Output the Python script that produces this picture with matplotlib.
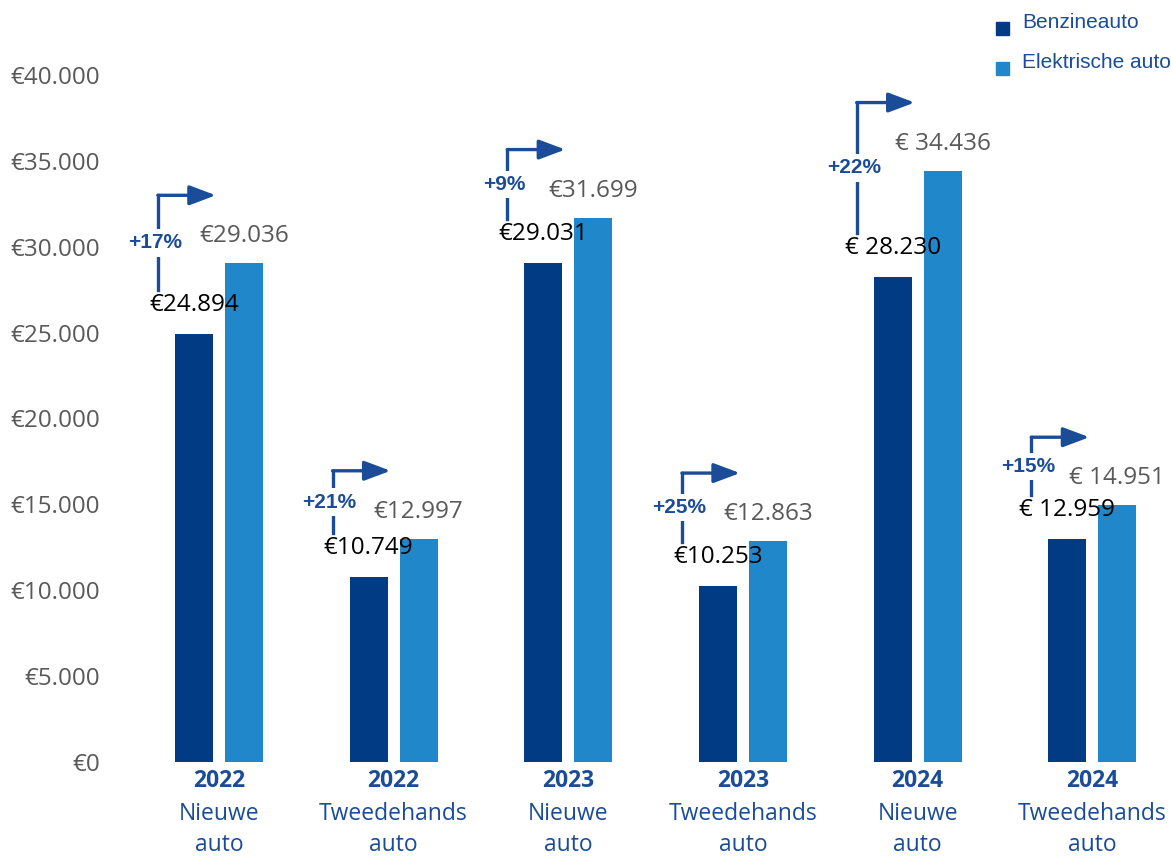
import matplotlib.pyplot as plt
import matplotlib.transforms as mtransforms
from matplotlib.patches import Rectangle
import numpy as np

## Data
years = ['2022', '2022', '2023', '2023', '2024', '2024']
kinds = ['Nieuwe\nauto', 'Tweedehands\nauto', 'Nieuwe\nauto',
         'Tweedehands\nauto', 'Nieuwe\nauto', 'Tweedehands\nauto']
benzine = [24894, 10749, 29031, 10253, 28230, 12959]
elektrisch = [29036, 12997, 31699, 12863, 34436, 14951]
prefix = ['€', '€', '€', '€', '€ ', '€ ']
yticks = [0, 5000, 10000, 15000, 20000, 25000, 30000, 35000, 40000]
series = ['Benzineauto', 'Elektrische auto']

## Colors
c_dark = '#003B84'
c_light = '#2187CB'
c_text = '#1A4C98'
c_gray = '#595959'


def euro(v, p='€'):
    return p + f'{v:,}'.replace(',', '.')


fig = plt.figure(figsize=(11.71, 8.56), dpi=100)
ax = fig.add_axes([0.0974, 0.1098, 0.9026, 0.8026])

x = np.arange(len(benzine))
off = 0.143
w = 0.218
ax.bar(x - off, benzine, width=w, color=c_dark)
ax.bar(x + off, elektrisch, width=w, color=c_light)

ax.set_xlim(-0.6, 5.45)
ax.set_ylim(0, 40000)
ax.set_yticks(yticks)
ax.set_yticklabels([euro(t) for t in yticks], fontfamily='Open Sans',
                   fontsize=17.5, color=c_gray)
ax.tick_params(axis='y', length=0, pad=10)
ax.set_xticks([])
for s in ax.spines.values():
    s.set_visible(False)

## X labels
trans_x = mtransforms.blended_transform_factory(ax.transData, ax.transAxes)
for i in range(len(years)):
    ax.text(x[i], -0.028, years[i], transform=trans_x, ha='center', va='center',
            fontsize=16.5, fontweight='bold', color=c_text, fontfamily='Open Sans')
    ax.text(x[i], -0.058, kinds[i], transform=trans_x, ha='center', va='top',
            fontsize=16.5, color=c_text, fontfamily='Open Sans', linespacing=1.42)

## Value labels
for i in range(len(benzine)):
    ax.annotate(euro(benzine[i], prefix[i]), (x[i] - off, benzine[i]),
                xytext=(0, 29), textcoords='offset pixels', ha='center', va='center',
                fontsize=17.5, color='black', fontfamily='Open Sans')
    ax.annotate(euro(elektrisch[i], prefix[i]), (x[i] + off, elektrisch[i]),
                xytext=(0, 27), textcoords='offset pixels', ha='center', va='center',
                fontsize=17.5, color=c_gray, fontfamily='Open Sans')

## Growth arrows
bar_px = w / 2 * 174.7
inv = ax.transData.inverted()
for i in range(len(benzine)):
    pct = round((elektrisch[i] / benzine[i] - 1) * 100)
    xl = x[i] - off
    t_bot = mtransforms.offset_copy(ax.transData, fig, x=-bar_px - 17, y=44, units='dots')
    t_top = mtransforms.offset_copy(ax.transData, fig, x=-bar_px - 17, y=68, units='dots')
    p0 = t_bot.transform((xl, benzine[i]))
    p1 = t_top.transform((xl, elektrisch[i]))
    d0 = inv.transform(p0)
    d1 = inv.transform(p1)
    ax.plot([d0[0], d1[0]], [d0[1], d1[1]], color=c_text, lw=2.4, solid_capstyle='projecting')
    d2 = inv.transform((p1[0] + 58, p1[1]))
    ax.annotate('', xy=(d2[0], d2[1]), xytext=(d1[0], d1[1]),
                arrowprops=dict(arrowstyle='-|>,head_length=1.6,head_width=0.6',
                                color=c_text, lw=2.4, shrinkA=0, shrinkB=0))
    ym = inv.transform((p0[0] - 3, (p0[1] + p1[1]) / 2))
    ax.text(ym[0], ym[1], f'+{pct}%', ha='center', va='center', fontsize=15,
            fontweight='bold', color=c_text, fontfamily='Liberation Sans',
            bbox=dict(facecolor='white', edgecolor='none', pad=3))

## Legend
for k, (name, col) in enumerate(zip(series, [c_dark, c_light])):
    yy = 1 - (22 + 40 * k) / 856
    fig.patches.append(Rectangle((996 / 1171, yy - 13 / 856), 13 / 1171, 13 / 856,
                                 transform=fig.transFigure, color=col))
    fig.text(1022 / 1171, yy, name, ha='left', va='center', fontsize=15,
             color=c_text, fontfamily='Liberation Sans')

fig.savefig('out.png', dpi=100)
